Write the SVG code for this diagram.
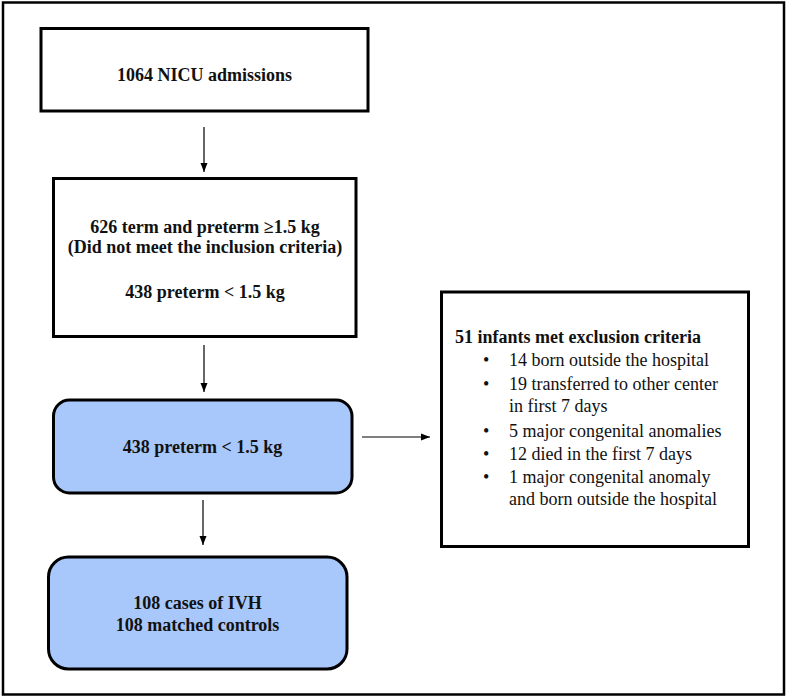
<svg xmlns="http://www.w3.org/2000/svg" width="787" height="698" viewBox="0 0 787 698">
<defs>
<marker id="ah" markerWidth="10" markerHeight="10" refX="9" refY="5" orient="auto" markerUnits="userSpaceOnUse">
<path d="M0,1.5 L9,5 L0,8.5 Z" fill="#000"/>
</marker>
<style>
.box{fill:#fff;stroke:#000;stroke-width:3}
.blue{fill:#a8c7fa;stroke:#000;stroke-width:3}
.conn{stroke:#000;stroke-width:1.2;fill:none;marker-end:url(#ah)}
</style>
</defs>
<rect x="0" y="0" width="787" height="698" fill="#fff"/>
<rect x="3" y="2.5" width="781" height="692" fill="none" stroke="#000" stroke-width="2.5"/>
<g id="n1" font-family="Liberation Serif" font-size="18" font-weight="bold" fill="#111" text-anchor="middle">
<rect class="box" x="41" y="28.5" width="327" height="82.5"/>
<text x="204.5" y="81">1064 NICU admissions</text>
</g>
<g id="n2" font-family="Liberation Serif" font-size="18" font-weight="bold" fill="#111" text-anchor="middle">
<rect class="box" x="53.5" y="178.5" width="302.5" height="158"/>
<text x="205" y="233">626 term and preterm ≥1.5 kg</text>
<text x="205" y="253">(Did not meet the inclusion criteria)</text>
<text x="205" y="298">438 preterm &lt; 1.5 kg</text>
</g>
<g id="n3" font-family="Liberation Serif" font-size="18" font-weight="bold" fill="#111" text-anchor="middle">
<rect class="blue" x="53.5" y="400" width="298.5" height="93" rx="16"/>
<text x="202.5" y="453">438 preterm &lt; 1.5 kg</text>
</g>
<g id="n4" font-family="Liberation Serif" font-size="18" font-weight="bold" fill="#111" text-anchor="middle">
<rect class="blue" x="48.5" y="557" width="298.5" height="112" rx="20"/>
<text x="197.5" y="609">108 cases of IVH</text>
<text x="197.5" y="631">108 matched controls</text>
</g>
<g id="n5" font-family="Liberation Serif" font-size="18" fill="#111">
<rect class="box" x="441.5" y="292" width="307" height="254.5"/>
<text font-weight="bold" x="455" y="343">51 infants met exclusion criteria</text>
<text x="483" y="366">•</text><text x="509" y="366">14 born outside the hospital</text>
<text x="483" y="390">•</text><text x="509" y="390">19 transferred to other center</text>
<text x="509" y="412">in first 7 days</text>
<text x="483" y="437">•</text><text x="509" y="437">5 major congenital anomalies</text>
<text x="483" y="460">•</text><text x="509" y="460">12 died in the first 7 days</text>
<text x="483" y="483">•</text><text x="509" y="483">1 major congenital anomaly</text>
<text x="509" y="505">and born outside the hospital</text>
</g>
<g id="connectors">
<line class="conn" x1="204" y1="127" x2="204" y2="172"/>
<line class="conn" x1="204" y1="345" x2="204" y2="392"/>
<line class="conn" x1="203" y1="500" x2="203" y2="545"/>
<line class="conn" x1="362" y1="437" x2="430" y2="437"/>
</g>
</svg>
